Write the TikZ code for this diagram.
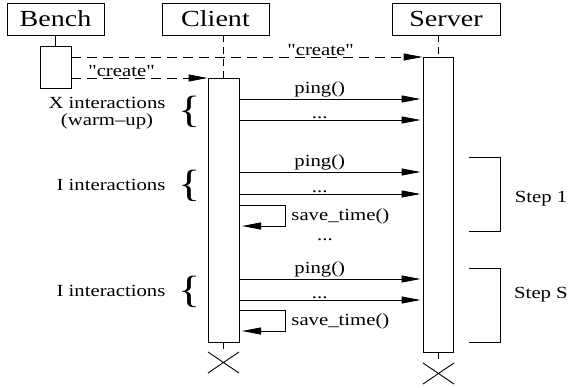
\documentclass[tikz,border=0pt]{standalone}
\usepackage{fontspec}
\setmainfont[FakeStretch=1.22]{Liberation Serif}
\newfontfamily\rawfont[FakeStretch=1.22, Ligatures=ResetAll]{Liberation Serif}
\usetikzlibrary{arrows.meta}
\newcommand{\mydots}{...}
\begin{document}
\begin{tikzpicture}[x=1pt,y=-1pt, line width=0.9pt,
  hdr/.style={draw, font=\fontsize{23}{26}\selectfont, minimum height=32pt, inner sep=0pt},
  act/.style={draw, fill=white, inner sep=0pt},
  msg/.style={-{Triangle[length=19pt,width=7pt]}},
  dmsg/.style={msg, dash pattern=on 10pt off 6pt},
  lbl/.style={font=\fontsize{17}{20}\selectfont, inner sep=1pt},
  brc/.style={font=\fontsize{38}{40}\selectfont, inner sep=0pt},
  lifeline/.style={dash pattern=on 7pt off 5pt}]
\useasboundingbox (0,0) rectangle (571,388);

% headers
\node[hdr, minimum width=97pt] (bench) at (55.5,19) {Bench};
\node[hdr, minimum width=107pt] (client) at (215.5,19) {Client};
\node[hdr, minimum width=108pt] (server) at (446,19) {Server};

% activations
\node[act, minimum width=31pt, minimum height=42pt] (bact) at (55.5,67) {};
\node[act, minimum width=31pt, minimum height=264pt] (cact) at (223.5,210) {};
\node[act, minimum width=30pt, minimum height=295pt] (sact) at (438,204.5) {};

% lifelines
\draw (bench.south -| bact.north) -- (bact.north);
\draw[lifeline] (client.south -| cact.north) -- (cact.north);
\draw[lifeline] (server.south -| sact.north) -- (sact.north);

% create messages
\coordinate (c1) at (71,57);
\coordinate (c2) at (71,78);
\draw[dmsg] (c1) -- (sact.west |- c1) node[lbl, pos=0.71, above=0pt] {\rawfont "create"};
\draw[dmsg] (c2) -- (cact.west |- c2) node[lbl, pos=0.37, above=0pt] {\rawfont "create"};

% ping groups
\foreach \y/\t [count=\i] in {99/ping(), 120/\mydots, 172/ping(), 194/\mydots, 279/ping(), 300/\mydots}{
  \coordinate (m\i) at (239,\y);
  \draw[msg, shorten >=2pt] (m\i) -- (sact.west |- m\i) node[lbl, pos=0.44, above=0pt] {\t};
}

% self messages
\coordinate (s1a) at (239,205);
\coordinate (s1b) at (285,226);
\coordinate (s1c) at (242,226);
\draw[msg] (s1a) -| (s1b) -- (s1c);
\node[lbl, anchor=west] (st1) at (290,216) {save\_time()};
\coordinate (s2a) at (239,310);
\coordinate (s2b) at (285,331);
\coordinate (s2c) at (242,331);
\draw[msg] (s2a) -| (s2b) -- (s2c);
\node[lbl, anchor=west] (st2) at (290,321) {save\_time()};

\node[lbl] (mid) at (325,240) {\mydots};

% braces and labels
\node[brc] (br1) at (190,112) {\{};
\node[brc] (br2) at (190,186) {\{};
\node[brc] (br3) at (190,292) {\{};
\node[lbl] (x1) at (107,103) {X interactions};
\node[lbl] (x2) at (107,121) {(warm--up)};
\node[lbl] (i1) at (111,185) {I interactions};
\node[lbl] (i2) at (111,291) {I interactions};

% steps
\draw (469,157) -| (500,231) -- (469,231);
\node[lbl] (step1) at (541,199) {Step 1};
\draw (469,268) -| (500,342) -- (469,342);
\node[lbl] (steps) at (541,295) {Step S};

% destruction
\coordinate (cx) at (223.5,362.5);
\draw (cact.south) -- (223.5,349);
\draw ([shift={(-15.5,-10.5)}]cx) -- ([shift={(15.5,10.5)}]cx)
      ([shift={(-15.5,10.5)}]cx) -- ([shift={(15.5,-10.5)}]cx);
\coordinate (sx) at (438.5,373.5);
\draw (sact.south) -- (438,359);
\draw ([shift={(-15.5,-10.5)}]sx) -- ([shift={(15.5,10.5)}]sx)
      ([shift={(-15.5,10.5)}]sx) -- ([shift={(15.5,-10.5)}]sx);
\end{tikzpicture}
\end{document}
